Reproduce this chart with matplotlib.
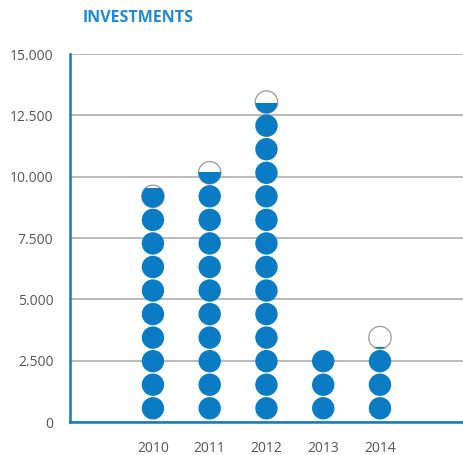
import matplotlib
matplotlib.use("Agg")
import matplotlib.pyplot as plt
from matplotlib.patches import Ellipse, Rectangle
from matplotlib.ticker import FuncFormatter

# investments per year; one circle stands for 1.000
years = ["2010", "2011", "2012", "2013", "2014"]
investments = [9850, 10530, 13480, 3000, 3080]
unit = 1000

y_ticks = [0, 2500, 5000, 7500, 10000, 12500, 15000]

BLUE = "#0b7cc4"
TITLE_BLUE = "#1a8ae0"
GRID = "#b4b4b4"
TEXT = "#555555"

plt.rcParams["font.family"] = ["Open Sans", "DejaVu Sans"]

fig = plt.figure(figsize=(4.64, 4.55), dpi=100)
ax = fig.add_axes([0.151, 0.0725, 0.849, 0.8087])

ax.set_xlim(-1.46, 5.48)
ax.set_ylim(0, 15000)

# work out how big a pixel is in data units so the circles stay round
fig.canvas.draw()
bbox = ax.get_window_extent()
x_per_px = (5.48 + 1.46) / bbox.width
y_per_px = 15000 / bbox.height

radius_px = 11.2
pitch = 960          # vertical distance between circle centres (data units)
base = 560           # centre of the lowest circle

for xi, value in enumerate(investments):
    n_full = int(value // unit)
    frac = value / unit - n_full
    n_total = n_full + (1 if frac > 0 else 0)
    for i in range(n_total):
        cy = base + i * pitch
        w = 2 * radius_px * x_per_px
        h = 2 * radius_px * y_per_px
        fill = 1.0 if i < n_full else frac
        if fill < 1.0:
            outline = Ellipse((xi, cy), w, h, facecolor="white",
                              edgecolor="#9a9a9a", lw=0.9, zorder=3)
            ax.add_patch(outline)
        disc = Ellipse((xi, cy), w, h, facecolor=BLUE, edgecolor="none", zorder=4)
        ax.add_patch(disc)
        if fill < 1.0:
            clip = Rectangle((xi - w, cy - h / 2), 2 * w, h * fill,
                             transform=ax.transData)
            disc.set_clip_path(clip)

ax.set_xticks(range(len(years)))
ax.set_xticklabels(years)
ax.set_yticks(y_ticks)
ax.yaxis.set_major_formatter(FuncFormatter(lambda v, p: f"{int(v):,}".replace(",", ".")))

ax.grid(axis="y", color=GRID, lw=1.3, zorder=1)
ax.set_axisbelow(True)
ax.tick_params(length=0, labelsize=10, colors=TEXT)
ax.tick_params(axis="y", pad=12)
ax.tick_params(axis="x", pad=14)

for side in ["top", "right"]:
    ax.spines[side].set_visible(False)
for side in ["left", "bottom"]:
    ax.spines[side].set_color(BLUE)
    ax.spines[side].set_linewidth(1.8)
    ax.spines[side].set_zorder(5)

fig.text(83 / 464, 1 - 18 / 455, "INVESTMENTS", color=TITLE_BLUE,
         fontsize=11.5, fontweight="bold", va="center", ha="left")

fig.savefig("out.png", dpi=100)
